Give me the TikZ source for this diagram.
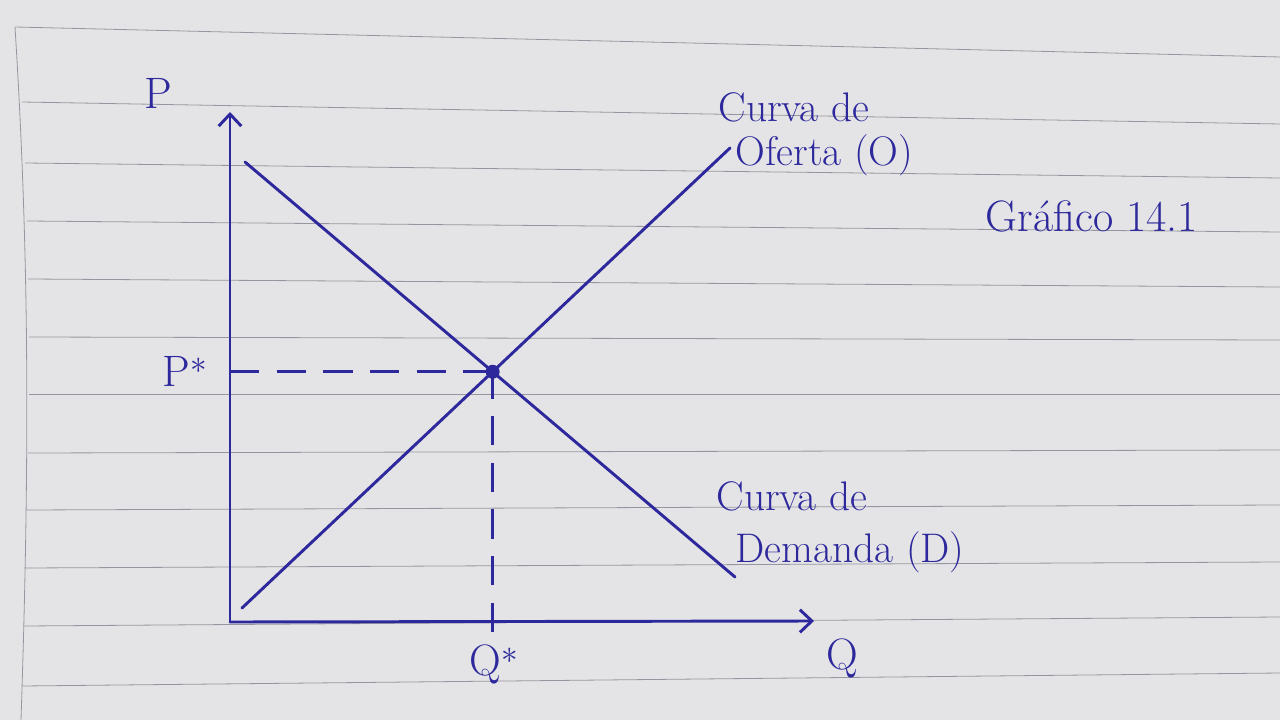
\documentclass[tikz,border=0pt]{standalone}
\usetikzlibrary{arrows.meta,calc}

\definecolor{ink}{RGB}{45,40,155}
\definecolor{paper}{RGB}{228,228,231}
\definecolor{rule}{RGB}{150,150,160}

\tikzset{every picture/.style={line width=0.75pt}}
\tikzset{
  pen/.style={draw=ink, line width=2.2pt, line cap=round},
  axis/.style={pen, -{Straight Barb[length=9pt,width=17pt,line width=2.2pt]}},
  guide/.style={draw=ink, line width=2.2pt, dash pattern=on 22pt off 13pt},
  hand/.style={text=ink, font=\fontsize{31}{35}\selectfont, inner sep=0pt},
  bighand/.style={hand, font=\fontsize{33}{37}\selectfont},
  ruling/.style={draw=rule, line width=0.6pt}
}

\begin{document}
\begin{tikzpicture}[x=0.75pt,y=0.75pt,yscale=-1,xscale=1]
%Paper
\fill[paper] (0,0) rectangle (1280,720);
\useasboundingbox (0,0) rectangle (1280,720);
%Ruled lines
\foreach \m/\l/\r in {15/27/57, 22/102/124, 25/163/178, 27/221/232, 28/279/287, 29/337/340,
                      29/394/394, 28/453/450, 27/510/505, 25/568/562, 24/626/617, 22/686/673}
  \draw[ruling] (\m,\l) -- (1280,\r);
%Margin
\draw[ruling] (15,27) .. controls (29,250) and (30,450) .. (21,720);

%Points
\coordinate (Orig) at (230,622);
\coordinate (Ptip) at (230,112);
\coordinate (Qtip) at (814,621);
\coordinate (Dtop) at (245,162);
\coordinate (Dbot) at (735,577);
\coordinate (Sbot) at (242,608);
\coordinate (Stop) at (730,148);
\coordinate (Eq) at (intersection of Dtop--Dbot and Sbot--Stop);
\coordinate (Qtick) at ($(Eq |- Orig)+(0,10)$);

%Axes
\draw[axis] (Orig) -- (Ptip);
\draw[axis] (Orig) -- (Qtip);
%Demand and supply
\draw[pen] (Dtop) -- (Dbot);
\draw[pen] (Sbot) -- (Stop);
%Equilibrium
\draw[guide] (Orig |- Eq) -- (Eq);
\draw[guide] (Qtick) -- (Eq);
\fill[ink] (Eq) circle (7);

% Text Node
\node[bighand] (lblP) at (158,93) {P};
\node[bighand] (lblPs) at (185,371) {P$^{*}$};
\node[bighand] (lblQs) at (494,664) {Q$^{*}$};
\node[bighand] (lblQ) at (842,658) {Q};
\node[hand, anchor=base west] (lblSa) at (718,122) {Curva de};
\node[hand, anchor=base west] (lblSb) at (735,166) {Oferta (O)};
\node[hand, anchor=base west] (lblDa) at (716,510) {Curva de};
\node[hand, anchor=base west] (lblDb) at (735,562) {Demanda (D)};
\node[bighand, anchor=base west] (lblG) at (985,232) {Gráfico 14.1};
\end{tikzpicture}
\end{document}
